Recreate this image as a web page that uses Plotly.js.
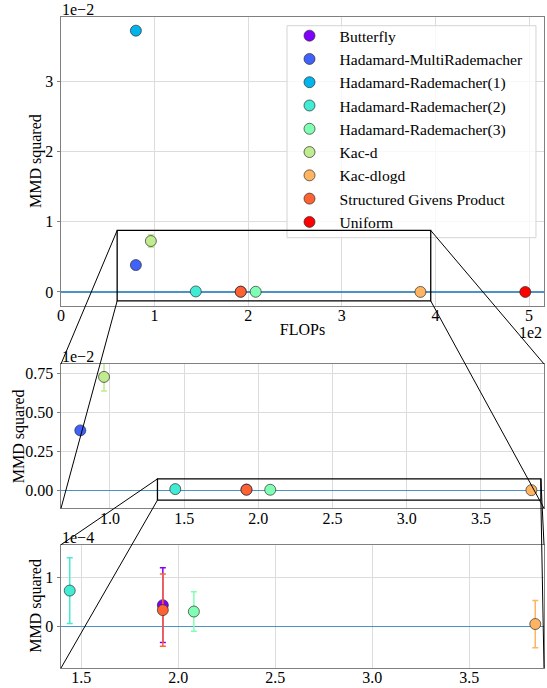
<!DOCTYPE html>
<html>
<head>
<meta charset="utf-8">
<script src="https://cdn.plot.ly/plotly-3.0.1.min.js"></script>
<style>
html,body{margin:0;padding:0;background:#fff;}
#chart{width:547px;height:688px;}
#chart svg text{font-family:'Liberation Serif','Times New Roman',serif !important;}
</style>
</head>
<body>
<div id="chart"></div>
<script>
// ---- data ----
const methods = ['Butterfly','Hadamard-MultiRademacher','Hadamard-Rademacher(1)','Hadamard-Rademacher(2)',
  'Hadamard-Rademacher(3)','Kac-d','Kac-dlogd','Structured Givens Product','Uniform'];
const colors = ['#8000ff','#4062fa','#00b5eb','#40ecd4','#80ffb4','#c0eb8e','#ffb462','#ff6232','#ff0000'];
const flops = [192, 80, 80, 144, 208, 96, 384, 192, 496];
const mmd = [4.34e-5, 3.84e-3, 3.729e-2, 7.3e-5, 3.04e-5, 7.27e-3, 5.0e-6, 3.33e-5, 2.0e-6];
const mmdErr = [7.6e-5, 1.5e-4, 4.0e-4, 6.7e-5, 4.0e-5, 9.0e-4, 4.8e-5, 7.35e-5, 3.0e-6];
const yTitle = 'MMD squared';
const xTitle = 'FLOPs';

// ---- layout geometry ----
const FONT = 'Liberation Serif, Times New Roman, serif';
const panels = [
  {xa:'x',  ya:'y',  xr:[0,5.16],      yr:[-0.2,3.924],   ys:1e-2, xs:100, dom:[0.5561,1],      xd:1,    yd:1,    xf:'d',   yf:'d',   exp:'1e\u22122', tx:-24.5},
  {xa:'x2', ya:'y2', xr:[0.67,3.925],  yr:[-0.116,0.81],  ys:1e-2, xs:100, dom:[0.2453,0.4670], xd:0.5,  yd:0.25, xf:'.1f', yf:'.2f', exp:'1e\u22122', tx:-42},
  {xa:'x3', ya:'y3', xr:[1.395,3.885], yr:[-0.844,1.663], ys:1e-4, xs:100, dom:[0,0.1894],      xd:0.5,  yd:1,    xf:'.1f', yf:'d',   exp:'1e\u22124', tx:-24.5}
];
// zoom boxes drawn in panel 0 and panel 1 (axis units)
const boxes = [
  {p:0, x:[0.60,3.95], y:[-0.128,0.878]},
  {p:1, x:[1.32,3.904], y:[-0.064,0.0726]}
];

const traces = [];
panels.forEach((P, pi) => {
  methods.forEach((m, i) => {
    traces.push({
      type:'scatter', mode:'markers', name:m, showlegend: pi===0,
      x:[flops[i]/P.xs], y:[mmd[i]/P.ys],
      xaxis:P.xa, yaxis:P.ya,
      marker:{size:11, color:colors[i], line:{color:'rgba(40,40,40,0.85)', width:0.8}},
      error_y:{type:'data', array:[mmdErr[i]/P.ys], visible:true, color:colors[i], thickness:1.5, width:3},
      cliponaxis:true
    });
  });
});

function axisBase(extra){
  return Object.assign({
    showline:true, mirror:true, linecolor:'#808080', linewidth:1,
    showgrid:true, gridcolor:'#dcdcdc', gridwidth:1, zeroline:false,
    ticks:'outside', ticklen:3.5, tickcolor:'#808080', tickwidth:1,
    tickfont:{family:FONT, size:16, color:'#000'}
  }, extra);
}

const layout = {
  width:547, height:688,
  margin:{l:61, r:3, t:17, b:20},
  paper_bgcolor:'#fff', plot_bgcolor:'#fff',
  font:{family:FONT, size:16, color:'#000'},
  showlegend:true,
  legend:{x:0.4524, y:0.9969, xanchor:'left', yanchor:'top',
    bgcolor:'rgba(0,0,0,0)', borderwidth:0,
    font:{family:FONT, size:15.6, color:'#000'}, itemwidth:50, tracegroupgap:0},
  shapes:[
    // legend frame
    {type:'rect', xref:'paper', yref:'paper', x0:0.4679, x1:0.9834, y0:0.661, y1:0.9866,
     line:{color:'#d4d4d4', width:1}, fillcolor:'rgba(255,255,255,0.8)', layer:'above'}
  ],
  annotations:[]
};

panels.forEach((P, pi) => {
  const sfx = pi===0 ? '' : String(pi+1);
  layout['xaxis'+sfx] = axisBase({range:P.xr, dtick:P.xd, tick0:0, tickformat:P.xf, domain:[0,1],
    ticklen:0, ticklabelstandoff:-5,
    anchor:'y'+sfx, title: pi===0 ? {text:xTitle, font:{family:FONT,size:16}, standoff:0} : {text:''}});
  layout['yaxis'+sfx] = axisBase({range:P.yr, dtick:P.yd, tick0:0, tickformat:P.yf, domain:P.dom,
    zeroline:true, zerolinecolor:'rgba(31,119,180,0.8)', zerolinewidth:1.3,
    anchor:'x'+sfx, title:{text:''}});
  // y title
  layout.annotations.push({xref:'paper', yref:'paper', x:0, y:(P.dom[0]+P.dom[1])/2, xanchor:'center', yanchor:'middle',
    textangle:-90, text:yTitle, showarrow:false, font:{family:FONT,size:16,color:'#000'}, xshift:P.tx});
  // exponent label
  layout.annotations.push({xref:'paper', yref:'paper', x:0, y:P.dom[1], xanchor:'left', yanchor:'bottom',
    text:P.exp, showarrow:false, font:{family:FONT,size:16,color:'#000'}, yshift:-3, xshift:-1});
});
// x exponent on top panel
layout.annotations.push({xref:'paper', yref:'paper', x:1, y:panels[0].dom[0], xanchor:'right', yanchor:'top',
  text:'1e2', showarrow:false, font:{family:FONT,size:16,color:'#000'}, yshift:-16});

// helpers to map axis values to paper coords
function px(P, v){ return (v-P.xr[0])/(P.xr[1]-P.xr[0]); }
function py(P, v){ return P.dom[0] + (v-P.yr[0])/(P.yr[1]-P.yr[0])*(P.dom[1]-P.dom[0]); }

boxes.forEach(B => {
  const P = panels[B.p], N = panels[B.p+1];
  const sfx = B.p===0 ? '' : String(B.p+1);
  layout.shapes.push({type:'rect', xref:'x'+sfx, yref:'y'+sfx, x0:B.x[0], x1:B.x[1], y0:B.y[0], y1:B.y[1],
    line:{color:'#000', width:1.3}, fillcolor:'rgba(0,0,0,0)', layer:'above'});
  const corners = [[B.x[0],B.y[1],0,1],[B.x[0],B.y[0],0,0],[B.x[1],B.y[1],1,1],[B.x[1],B.y[0],1,0]];
  corners.forEach(c => {
    layout.shapes.push({type:'line', xref:'paper', yref:'paper',
      x0:px(P,c[0]), y0:py(P,c[1]), x1:c[2], y1:N.dom[c[3]],
      line:{color:'#000', width:1}, layer:'above'});
  });
});

Plotly.newPlot('chart', traces, layout, {displayModeBar:false, staticPlot:true});
</script>
</body>
</html>
